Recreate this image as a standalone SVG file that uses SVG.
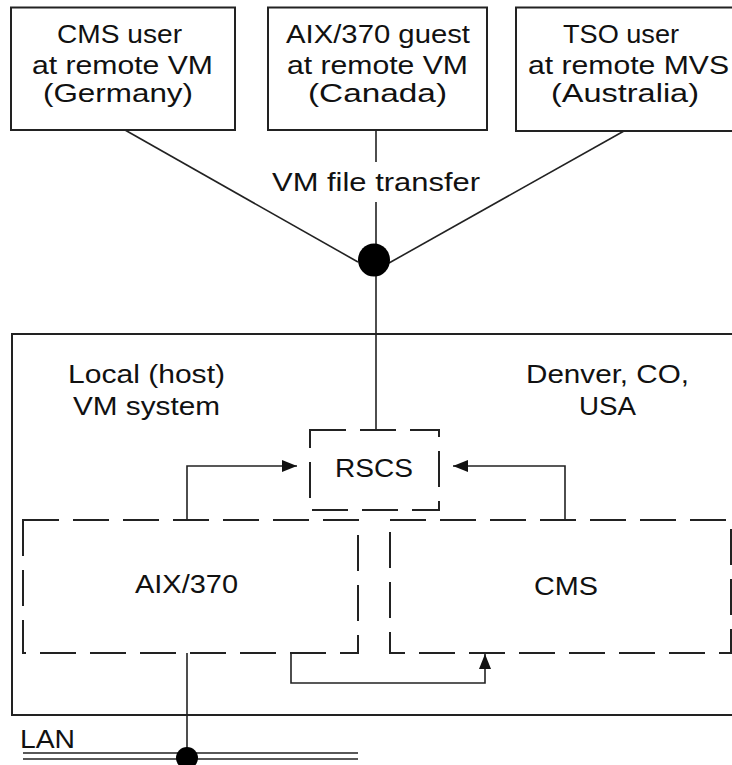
<svg xmlns="http://www.w3.org/2000/svg" width="732" height="765" viewBox="0 0 732 765">
<style>
text{font-family:"Liberation Sans",Arial,Helvetica,sans-serif;font-size:26px;fill:#111;}
.box{fill:#fff;stroke:#222;stroke-width:2;}
.dash{fill:none;stroke:#222;stroke-width:2;stroke-dasharray:36 14;}
.ln{fill:none;stroke:#222;stroke-width:1.6;}
.arr{fill:none;stroke:#222;stroke-width:1.6;marker-end:url(#ah);}
</style>
<defs>
<marker id="ah" markerUnits="userSpaceOnUse" markerWidth="16" markerHeight="14" refX="15" refY="6" orient="auto">
<path d="M0,0 L15,6 L0,12 z" fill="#111"/>
</marker>
</defs>
<rect width="732" height="765" fill="#fff"/>

<g id="host">
<path class="box" fill="none" d="M732,334 H12 V715 H732"/>
<text x="68" y="383" textLength="157" lengthAdjust="spacingAndGlyphs">Local (host)</text>
<text x="73" y="415" textLength="147" lengthAdjust="spacingAndGlyphs">VM system</text>
<text x="526" y="383" textLength="163" lengthAdjust="spacingAndGlyphs">Denver, CO,</text>
<text x="579" y="415" textLength="57" lengthAdjust="spacingAndGlyphs">USA</text>
</g>

<g id="cms-germany">
<rect class="box" x="11" y="7.5" width="224" height="122.5"/>
<text x="57" y="43" textLength="125" lengthAdjust="spacingAndGlyphs">CMS user</text>
<text x="32" y="74" textLength="181" lengthAdjust="spacingAndGlyphs">at remote VM</text>
<text x="43" y="102" textLength="150" lengthAdjust="spacingAndGlyphs">(Germany)</text>
</g>

<g id="aix-canada">
<rect class="box" x="268" y="7.5" width="219" height="122.5"/>
<text x="286" y="43" textLength="184" lengthAdjust="spacingAndGlyphs">AIX/370 guest</text>
<text x="287" y="74" textLength="181" lengthAdjust="spacingAndGlyphs">at remote VM</text>
<text x="308" y="102" textLength="139" lengthAdjust="spacingAndGlyphs">(Canada)</text>
</g>

<g id="tso-australia">
<path class="box" d="M733,7.5 H516 V131 H733"/>
<text x="563" y="43" textLength="116" lengthAdjust="spacingAndGlyphs">TSO user</text>
<text x="528" y="74" textLength="201" lengthAdjust="spacingAndGlyphs">at remote MVS</text>
<text x="551" y="102" textLength="148" lengthAdjust="spacingAndGlyphs">(Australia)</text>
</g>

<g id="rscs">
<rect class="dash" x="310" y="430" width="129" height="80"/>
<text x="335" y="477" textLength="78" lengthAdjust="spacingAndGlyphs">RSCS</text>
</g>

<g id="aix370">
<rect class="dash" x="23" y="520" width="335" height="133"/>
<text x="135" y="593" textLength="103" lengthAdjust="spacingAndGlyphs">AIX/370</text>
</g>

<g id="cms">
<rect class="dash" x="390" y="520" width="341" height="133"/>
<text x="534" y="595" textLength="64" lengthAdjust="spacingAndGlyphs">CMS</text>
</g>

<g id="connectors">
<path class="ln" d="M125,130 L358,262"/>
<path class="ln" d="M624,131 L389,263"/>
<path class="ln" d="M376,130 V162 M376,202 V430"/>
<text x="272" y="191" textLength="208" lengthAdjust="spacingAndGlyphs">VM file transfer</text>
<ellipse cx="374" cy="260" rx="16" ry="16.5" fill="#000"/>
<path class="arr" d="M187,520 V466 H297"/>
<path class="arr" d="M565,520 V466 H453"/>
<path class="arr" d="M291,653 V683 H485 V654"/>
<path class="ln" d="M187,653 V758"/>
</g>

<g id="lan">
<path class="ln" d="M23,753 H358 M23,759 H358"/>
<circle cx="187" cy="758" r="11" fill="#000"/>
<text x="20" y="748" textLength="55" lengthAdjust="spacingAndGlyphs">LAN</text>
</g>
</svg>
